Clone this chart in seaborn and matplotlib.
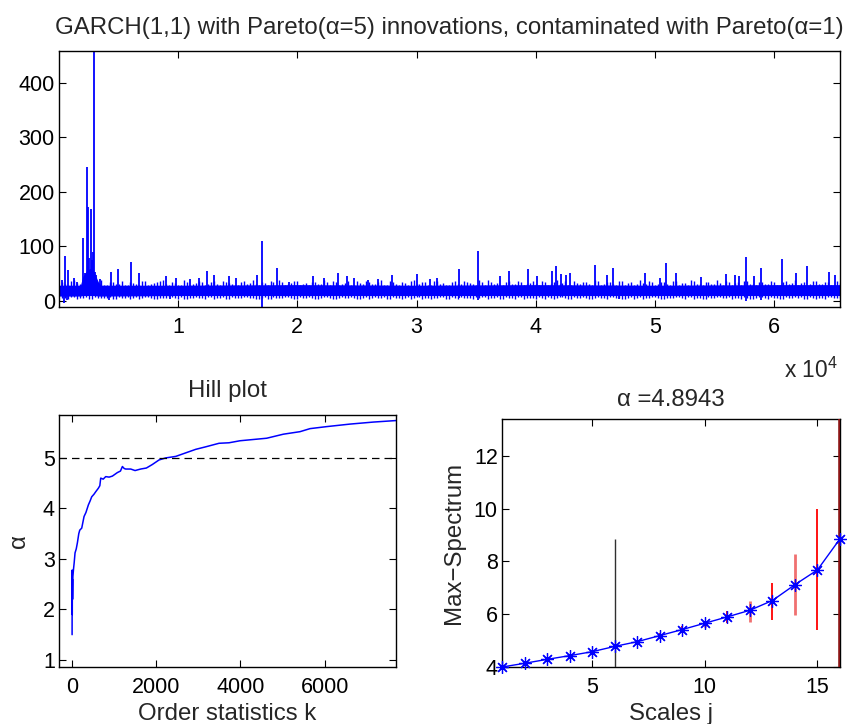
import numpy as np
import pandas as pd
import matplotlib
matplotlib.use("Agg")
import matplotlib.pyplot as plt
import seaborn as sns

# ---------------- data ----------------
# top panel: GARCH series (sample index / value)
band_pos = [1, 1800, 2000, 2300, 2600, 3000, 3300, 3500, 10000, 20000, 30000, 40000, 50000, 60000, 65536]
band_lo = [9, 9, 10, 10, 10, 10, 9, 9, 10, 10, 10, 10, 10, 10, 10]
band_hi = [29, 29, 45, 55, 60, 50, 35, 29, 29, 30, 29, 30, 29, 30, 30]

spike_pos = [220, 500, 720, 1280, 1500, 1980, 2190, 2315, 2400, 2455,
             2540, 2650, 2740, 2820, 2930, 3050, 3140, 3440, 4360, 4950,
             6060, 6680, 9020, 9830, 11000, 11790, 12400, 13020, 14300, 14850,
             16650, 17010, 18270, 19300, 21290, 22200, 23440, 24190, 24750, 25950,
             26790, 27910, 30060, 31120, 31730, 33580, 35150, 37040, 37720, 39360,
             40120, 41410, 41740, 42100, 42530, 42860, 44980, 45980, 46490, 49150,
             50460, 50910, 51750, 53900, 55940, 56690, 57100, 57670, 58310, 58930,
             60660, 61860, 62750, 64590, 65150]
spike_val = [38, 83, 56, 43, 34, 116, 51, 246, 65, 172,
             78, 168, 75, 90, 458, 54, 48, 40, 53, 59,
             72, 51, 46, 42, 41, 42, 55, 48, 46, 43,
             48, 110, 60, 35, 46, 43, 51, 46, 42, 38,
             41, 48, 49, 41, 42, 59, 92, 45, 55, 59,
             45, 55, 64, 50, 48, 51, 66, 48, 60, 52,
             43, 69, 51, 44, 49, 47, 45, 80, 45, 60,
             77, 51, 65, 54, 48]

down_pos = [450, 700, 4200, 9300, 17010, 33580, 35150, 47000, 57670, 58930]
down_val = [-3, 2, 2, 3, -11, 5, 2, 3, 0, 1]

minor_pos = list(range(250, 65536, 500))
minor_hi = [34, 30, 38, 31, 29, 36, 33, 30, 35, 32,
            37, 30, 33, 29, 36, 31, 34, 38, 30, 33,
            29, 35, 32, 36, 30, 34, 31, 37, 33, 29,
            35, 31, 38, 30, 33, 36, 29, 34, 32, 37,
            30, 33, 35, 31, 38, 29, 34, 32, 36, 30,
            33, 37, 31, 34, 29, 36, 32, 35, 30, 38,
            31, 34, 29, 37, 33, 30, 36, 32, 35, 31,
            38, 30, 34, 33, 29, 36, 31, 35, 32, 37,
            30, 34, 31, 38, 33, 29, 36, 32, 35, 30,
            37, 31, 34, 29, 36, 33, 30, 38, 32, 35,
            31, 34, 30, 37, 33, 29, 36, 32, 35, 31,
            38, 30, 34, 33, 29, 37, 31, 35, 32, 36,
            30, 34, 31, 38, 33, 29, 36, 32, 35, 30,
            37]
minor_lo = [6, 4, 7, 5, 8, 3, 6, 5, 7, 4,
            5, 8, 6, 3, 7, 5, 4, 6, 8, 5,
            7, 4, 6, 5, 3, 8, 6, 7, 4, 5,
            6, 8, 5, 4, 7, 3, 6, 5, 8, 4,
            7, 5, 6, 4, 8, 5, 3, 7, 6, 5,
            4, 8, 6, 5, 7, 3, 6, 4, 8, 5,
            7, 6, 4, 5, 8, 3, 6, 7, 5, 4,
            6, 8, 5, 7, 4, 6, 3, 8, 5, 6,
            7, 4, 6, 5, 8, 3, 7, 5, 6, 4,
            8, 5, 7, 6, 4, 5, 3, 8, 6, 7,
            5, 4, 6, 8, 5, 7, 3, 6, 4, 5,
            8, 6, 7, 5, 4, 6, 3, 8, 5, 7,
            6, 4, 5, 8, 7, 3, 6, 5, 4, 8,
            6]
minor2_pos = list(range(500, 65536, 500))
minor2_hi = [31, 36, 33, 29, 35, 32, 38, 30, 34, 31,
             29, 35, 32, 37, 30, 33, 36, 31, 34, 29,
             38, 30, 33, 35, 31, 36, 29, 34, 32, 30,
             37, 33, 31, 35, 29, 34, 38, 30, 33, 36,
             32, 29, 35, 31, 34, 37, 30, 33, 29, 36,
             31, 35, 32, 38, 30, 34, 29, 33, 36, 31,
             35, 30, 37, 32, 29, 34, 31, 36, 33, 30,
             34, 38, 31, 29, 35, 32, 36, 30, 33, 31,
             36, 29, 34, 32, 37, 30, 33, 35, 31, 38,
             29, 34, 32, 36, 30, 35, 31, 33, 37, 29,
             34, 31, 36, 30, 33, 38, 32, 29, 35, 31,
             33, 36, 30, 34, 37, 31, 29, 35, 32, 34,
             30, 36, 33, 29, 35, 31, 37, 32, 34, 30,
             33]
minor2_lo = [5, 7, 4, 6, 3, 8, 5, 6, 4, 7,
             6, 3, 8, 5, 7, 4, 6, 5, 8, 3,
             4, 6, 7, 5, 8, 4, 6, 3, 7, 5,
             8, 5, 4, 6, 3, 7, 5, 8, 6, 4,
             6, 7, 3, 5, 8, 4, 6, 5, 7, 3,
             5, 4, 8, 6, 3, 7, 5, 6, 4, 8,
             4, 6, 5, 7, 3, 8, 4, 6, 5, 7,
             7, 3, 6, 4, 8, 5, 7, 4, 6, 3,
             5, 8, 4, 7, 6, 3, 5, 8, 4, 6,
             6, 4, 8, 5, 3, 7, 6, 4, 5, 8,
             3, 6, 5, 7, 4, 8, 6, 3, 7, 5,
             7, 5, 3, 6, 8, 4, 5, 7, 3, 6,
             4, 7, 6, 5, 3, 8, 4, 6, 7, 5,
             6]

top_xticks = [10000, 20000, 30000, 40000, 50000, 60000]
top_xticklabels = ["1", "2", "3", "4", "5", "6"]

# Hill plot
hill_k = [1, 3, 5, 8, 12, 20, 35, 50, 71, 100,
          127, 160, 183, 230, 285, 330, 388, 430, 467, 520,
          562, 625, 660, 681, 740, 800, 880, 958, 1077, 1150,
          1196, 1240, 1275, 1394, 1497, 1630, 1766, 1908, 2067, 2225,
          2463, 2700, 2938, 3176, 3492, 3729, 3990, 4624, 5020, 5416,
          5653, 6049, 6603, 7157, 7696]
hill_alpha = [1.50, 2.78, 1.9, 2.6, 2.2, 2.65, 2.80, 2.92, 3.12, 3.20,
              3.32, 3.50, 3.57, 3.61, 3.84, 3.92, 4.07, 4.15, 4.23, 4.28,
              4.33, 4.40, 4.45, 4.60, 4.58, 4.63, 4.62, 4.64, 4.71, 4.74,
              4.83, 4.79, 4.78, 4.78, 4.75, 4.78, 4.80, 4.87, 4.96, 5.00,
              5.03, 5.10, 5.17, 5.22, 5.29, 5.30, 5.34, 5.39, 5.47, 5.52,
              5.58, 5.62, 5.67, 5.71, 5.74]
true_alpha = 5

# Max-spectrum
scales = list(range(1, 17))
maxspec = [4.00, 4.14, 4.29, 4.43, 4.58, 4.78, 4.96, 5.19, 5.42, 5.66,
           5.90, 6.15, 6.52, 7.12, 7.68, 8.86]
err_j = [6, 8, 9, 10, 11, 12, 13, 14, 15, 16]
err_lo = [3.0, 5.08, 5.30, 5.50, 5.67, 5.70, 5.78, 5.97, 5.40, 2.0]
err_hi = [8.86, 5.30, 5.55, 5.75, 6.12, 6.50, 7.20, 8.27, 10.0, 20.0]
alpha_est = "4.8943"

# ---------------- style ----------------
sns.set_style("ticks")
plt.rcParams['font.family'] = ['Liberation Sans', 'DejaVu Sans']
plt.rcParams['mathtext.fontset'] = 'custom'
plt.rcParams['mathtext.rm'] = 'Liberation Sans'
plt.rcParams['mathtext.it'] = 'Liberation Sans'
FS = 15.5     # tick labels
LFS = 17.3    # labels / titles

fig = plt.figure(figsize=(8.54, 7.24), dpi=100)
fig.patch.set_facecolor('white')

def style_ax(ax):
    ax.tick_params(direction='in', top=True, right=True, length=5, width=0.8,
                   labelsize=FS, colors='black')
    ax.tick_params(axis='x', pad=7.5)
    ax.tick_params(axis='y', pad=3)
    for s in ax.spines.values():
        s.set_visible(True)
        s.set_linewidth(1.0)
        s.set_color('black')
    ax.set_facecolor('white')

# ---- top panel ----
ax1 = fig.add_axes([59/854, 1-307/724, 781/854, 256/724])
blue = (0, 0, 1)
ax1.fill_between(band_pos, band_lo, band_hi, color=blue, lw=0)
ax1.vlines(minor_pos, minor_lo, minor_hi, color=blue, lw=1.0)
ax1.vlines(minor2_pos, minor2_lo, minor2_hi, color=blue, lw=1.0)
ax1.vlines(spike_pos, [15]*len(spike_pos), spike_val, color=blue, lw=1.3)
ax1.vlines(down_pos, down_val, [15]*len(down_pos), color=blue, lw=1.3)
ax1.set_xlim(1, 65536)
ax1.set_ylim(-11, 458)
ax1.set_xticks(top_xticks)
ax1.set_xticklabels(top_xticklabels)
ax1.set_yticks([0, 100, 200, 300, 400])
style_ax(ax1)
ax1.set_title("GARCH(1,1) with Pareto(α=5) innovations, contaminated with Pareto(α=1)",
              fontsize=LFS, pad=12)
fig.text(784/854, 1-378/724, r"x 10$^{4}$", fontsize=LFS * 0.95, ha='left', va='baseline')

# ---- Hill plot ----
ax2 = fig.add_axes([59/854, 1-667/724, 337/854, 252/724])
hill_df = pd.DataFrame({"k": hill_k, "alpha": hill_alpha})
sns.lineplot(data=hill_df, x="k", y="alpha", ax=ax2, color=blue, lw=1.1,
             sort=False, estimator=None)
ax2.axhline(true_alpha, color='black', lw=0.9, ls=(0, (6, 4)))
ax2.set_xlim(-310, 7696)
ax2.set_ylim(0.86, 5.85)
ax2.set_xticks([0, 2000, 4000, 6000])
ax2.set_yticks([1, 2, 3, 4, 5])
style_ax(ax2)
ax2.set_xlabel("Order statistics k", fontsize=LFS, labelpad=3.5)
ax2.set_ylabel("α", fontsize=LFS, labelpad=9)
ax2.set_title("Hill plot", fontsize=LFS, pad=13)

# ---- Max-spectrum ----
ax3 = fig.add_axes([502/854, 1-667/724, 338/854, 248/724])
err_colors = ['#303030', '#ff0000', '#ff0000', '#f07070', '#ff0000',
              '#f07070', '#ff0000', '#f07070', '#ff0000', '#8b1414']
err_widths = [1.0, 1.3, 1.3, 2.0, 1.3, 2.0, 1.3, 2.0, 1.3, 2.6]
for j, lo, hi, c, w in zip(err_j, err_lo, err_hi, err_colors, err_widths):
    ax3.vlines(j, lo, hi, color=c, lw=w, zorder=2.7)
spec_df = pd.DataFrame({"j": scales, "ms": maxspec})
sns.lineplot(data=spec_df, x="j", y="ms", ax=ax3, color=blue, lw=1.0,
             marker=(8, 2, 0), markersize=9, markeredgecolor=blue,
             markeredgewidth=0.9, zorder=3, clip_on=False)
ax3.set_xlim(1, 16)
ax3.set_ylim(4, 13.4)
ax3.set_xticks([5, 10, 15])
ax3.set_yticks([4, 6, 8, 10, 12])
style_ax(ax3)
ax3.set_xlabel("Scales j", fontsize=LFS, labelpad=3.5)
ax3.set_ylabel("Max\u2212Spectrum", fontsize=LFS, labelpad=6)
ax3.set_title("α =" + alpha_est, fontsize=LFS, pad=9)

fig.savefig("out.png", dpi=100, facecolor='white')
